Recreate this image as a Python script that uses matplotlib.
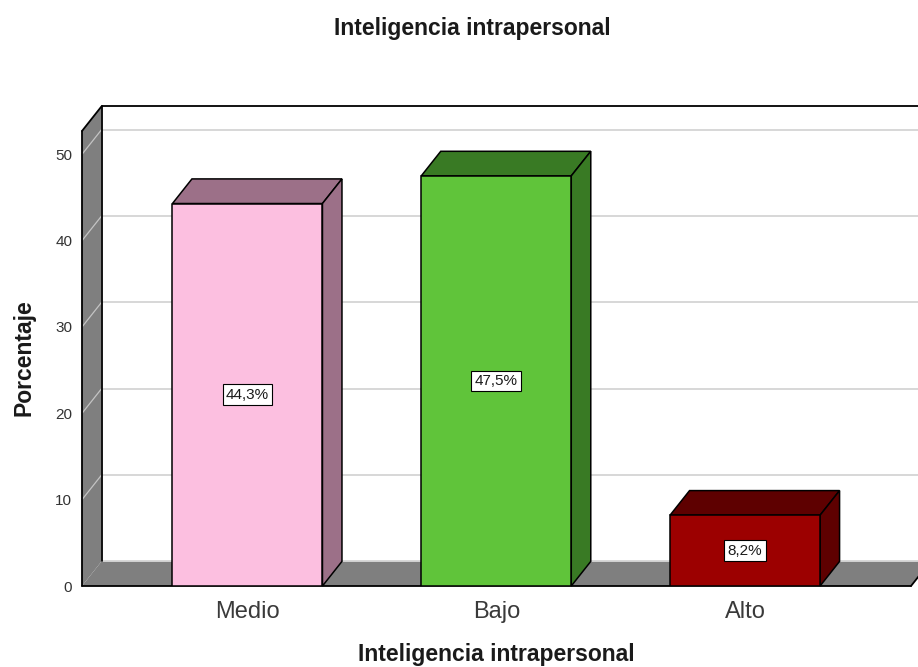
# Inteligencia intrapersonal - 3D looking bar chart
import matplotlib
matplotlib.use('Agg')
import matplotlib.pyplot as plt
from matplotlib.patches import Polygon

plt.rcParams['font.family'] = ['Liberation Sans', 'DejaVu Sans']

categories = ['Medio', 'Bajo', 'Alto']
values = [44.3, 47.5, 8.2]
labels = ['44,3%', '47,5%', '8,2%']
front_colors = ['#fcbfe0', '#60c43a', '#9c0000']
dark_colors = ['#9c7088', '#397a24', '#5e0000']
y_ticks = [0, 10, 20, 30, 40, 50]

W, H = 918, 667
DX = 0.0784   # depth of the 3D effect, data units
DY = 2.85
BAR_W = 0.603
WALL = '#7f7f7f'
GRID = '#d4d4d4'
HEAD = dict(fontsize=16.5, fontweight='bold', color='#1a1a1a')

fig = plt.figure(figsize=(W / 100, H / 100), dpi=100)
ax = fig.add_axes([82 / W, 1 - 586 / H, 829 / W, 455 / H])
ax.set_xlim(-0.665, 2.667)
ax.set_ylim(0, 52.7)
xmin, xmax = ax.get_xlim()
ymin, ymax = ax.get_ylim()

for s in ax.spines.values():
    s.set_visible(False)


def poly(pts, fc, z, ec='black', lw=1.1):
    ax.add_patch(Polygon(pts, closed=True, fc=fc, ec=ec, lw=lw, zorder=z, clip_on=False))


def edge(xs, ys, z=3):
    ax.plot(xs, ys, color='black', lw=1.3, zorder=z, clip_on=False, solid_capstyle='round')


# back wall, side wall and floor
poly([(xmin + DX, ymin + DY), (xmax + DX, ymin + DY), (xmax + DX, ymax + DY), (xmin + DX, ymax + DY)], 'white', 1, ec='none', lw=0)
poly([(xmin, ymin), (xmin + DX, ymin + DY), (xmin + DX, ymax + DY), (xmin, ymax)], WALL, 2, ec='none', lw=0)
poly([(xmin, ymin), (xmin + DX, ymin + DY), (xmax + DX, ymin + DY), (xmax, ymin)], WALL, 2, ec='none', lw=0)

# grid lines, back wall then side wall
for v in y_ticks:
    ax.plot([xmin + DX, xmax + DX], [v + DY, v + DY], color=GRID, lw=1.3, zorder=2.2, clip_on=False)
    if v > 0:
        ax.plot([xmin, xmin + DX], [v, v + DY], color='#c4c4c4', lw=0.9, zorder=2.5, clip_on=False)

# outlines of the box
edge([xmin, xmax], [ymin, ymin])
edge([xmin, xmin], [ymin, ymax])
edge([xmin, xmin + DX], [ymax, ymax + DY])
edge([xmin + DX, xmin + DX], [ymin + DY, ymax + DY])
edge([xmin + DX, xmax + DX], [ymax + DY, ymax + DY])
edge([xmax, xmax + DX], [ymin, ymin + DY])

# bars
x = list(range(len(categories)))
ax.bar(x, values, width=BAR_W, color=front_colors, edgecolor='black', linewidth=1.1, zorder=6)
for i, v in enumerate(values):
    l, r = i - BAR_W / 2, i + BAR_W / 2
    poly([(l, v), (l + DX, v + DY), (r + DX, v + DY), (r, v)], dark_colors[i], 5)
    poly([(r, 0), (r + DX, DY), (r + DX, v + DY), (r, v)], dark_colors[i], 5)
    ax.text(i, v / 2, labels[i], ha='center', va='center', fontsize=11, color='#1a1a1a', zorder=8,
            bbox=dict(boxstyle='square,pad=0.22', fc='white', ec='black', lw=0.8))

ax.set_xticks(x)
ax.set_xticklabels(categories, fontsize=17, color='#3a3a3a')
ax.set_yticks(y_ticks)
ax.set_yticklabels([str(v) for v in y_ticks], fontsize=11, color='#333333')
ax.tick_params(axis='x', length=0, pad=11)
ax.tick_params(axis='y', length=0, pad=7)

fig.text(496 / W, 1 - 655 / H, 'Inteligencia intrapersonal', ha='center', va='center', **HEAD)
fig.text(24 / W, 1 - 358 / H, 'Porcentaje', ha='center', va='center', rotation=90, **HEAD)
fig.text(472 / W, 1 - 29 / H, 'Inteligencia intrapersonal', ha='center', va='center', **HEAD)

fig.savefig('out.png', dpi=100)
